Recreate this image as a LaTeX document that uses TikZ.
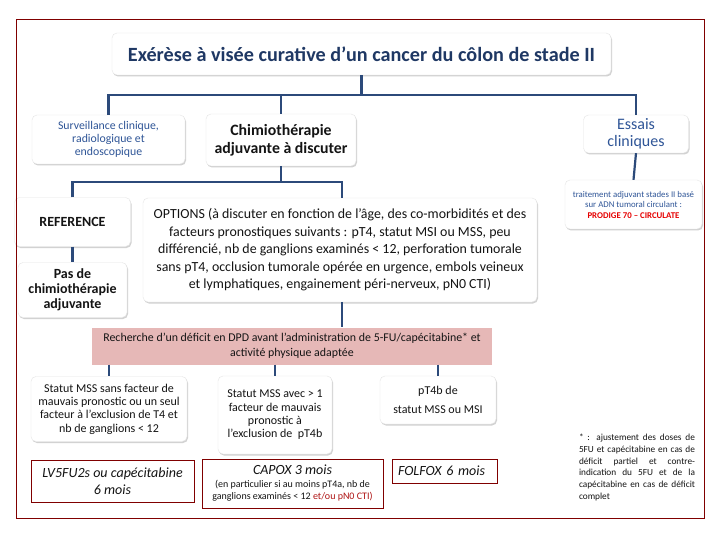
\documentclass[tikz,border=0pt]{standalone}
\usepackage{fontspec}
\setmainfont{Carlito}
\usetikzlibrary{shadows,calc}
\definecolor{framec}{RGB}{128,0,0}
\definecolor{connc}{RGB}{44,74,122}
\definecolor{titlec}{RGB}{31,56,100}
\definecolor{bluec}{RGB}{47,85,151}
\definecolor{redc}{RGB}{230,0,0}
\definecolor{pinkc}{RGB}{230,184,183}
\definecolor{darkred}{RGB}{175,20,20}
\definecolor{txt}{RGB}{20,20,20}
\begin{document}
\begin{tikzpicture}[x=1pt,y=-1pt,
  box/.style={draw=black!10, fill=white, rounded corners=5pt,
    drop shadow={shadow xshift=1pt,shadow yshift=-1.5pt,opacity=0.25,fill=black!70},
    align=center, inner sep=1pt, text=txt},
  rbox/.style={draw=framec, line width=0.9pt, fill=white, align=center, inner sep=1pt, text=txt},
  conn/.style={draw=connc, line width=2.2pt}]
\useasboundingbox (0,0) rectangle (720,540);
\fill[white] (0,0) rectangle (720,540);

% nodes
\node[box, minimum width=499pt, minimum height=42pt, text=titlec,
  font={\fontsize{20.2}{24}\selectfont\bfseries}] (title) at (361.5,54)
  {Exérèse à visée curative d’un cancer du côlon de stade II};
\node[box, minimum width=153pt, minimum height=49pt, text=bluec,
  font={\fontsize{11.8}{13}\selectfont}] (surv) at (108.5,139.5)
  {Surveillance clinique,\\ radiologique et\\ endoscopique};
\node[box, minimum width=150pt, minimum height=52pt,
  font={\fontsize{15.8}{18}\selectfont\bfseries}] (chimio) at (281,140)
  {Chimiothérapie\\ adjuvante à discuter};
\node[box, minimum width=105pt, minimum height=38pt, text=bluec,
  font={\fontsize{16}{17}\selectfont}] (essais) at (636,134)
  {Essais\\ cliniques};
\node[box, minimum width=137pt, minimum height=49pt, text=bluec,
  font={\fontsize{8.8}{10.5}\selectfont}] (trial) at (633.5,204.5)
  {traitement adjuvant stades II basé\\ sur ADN tumoral circulant :\\ {\color{redc}\bfseries PRODIGE 70 – CIRCULATE}};
\node[box, minimum width=116pt, minimum height=49pt,
  font={\fontsize{14}{16}\selectfont\bfseries}] (ref) at (72.5,222)
  {REFERENCE};
\node[box, minimum width=109pt, minimum height=55pt,
  font={\fontsize{14}{14.8}\selectfont\bfseries}] (pas) at (72.5,290)
  {Pas de\\ chimiothérapie\\ adjuvante};
\node[box, minimum width=394pt, minimum height=104pt,
  font={\fontsize{13.9}{17.5}\selectfont}] (opt) at (340,250)
  {OPTIONS (à discuter en fonction de l’âge, des co-morbidités et des\\
   facteurs pronostiques suivants : pT4, statut MSI ou MSS, peu\\
   différencié, nb de ganglions examinés < 12, perforation tumorale\\
   sans pT4, occlusion tumorale opérée en urgence, embols veineux\\
   et lymphatiques, engainement péri-nerveux, pN0 CTI)};
\node[fill=pinkc, minimum width=400pt, minimum height=37pt, align=center, text=txt,
  inner sep=1pt, font={\fontsize{11.9}{14.7}\selectfont}] (dpd) at (292,346)
  {Recherche d’un déficit en DPD avant l’administration de 5-FU/capécitabine* et\\ activité physique adaptée};
\node[box, minimum width=156pt, minimum height=65pt,
  font={\fontsize{12}{13.3}\selectfont}] (b1) at (109,409)
  {Statut MSS sans facteur de\\ mauvais pronostic ou un seul\\ facteur à l’exclusion de T4 et\\ nb de ganglions < 12};
\node[box, minimum width=114pt, minimum height=78pt,
  font={\fontsize{12}{13.3}\selectfont}] (b2) at (275,415)
  {Statut MSS avec > 1\\ facteur de mauvais\\ pronostic à\\ l’exclusion de~ pT4b};
\node[box, minimum width=116pt, minimum height=48pt,
  font={\fontsize{12}{19}\selectfont}] (b3) at (438,400)
  {pT4b de\\ statut MSS ou MSI};
\node[rbox, minimum width=163pt, minimum height=42pt,
  font={\fontsize{14}{17.5}\selectfont\itshape}] (r1) at (112.5,481)
  {LV5FU2s ou capécitabine\\ 6 mois};
\node[rbox, minimum width=181pt, minimum height=49pt,
  font={\fontsize{10}{12.5}\selectfont}] (r2) at (292.5,483.5)
  {{\fontsize{14}{15}\selectfont\itshape CAPOX 3 mois}\\
   (en particulier si au moins pT4a, nb de\\
   ganglions examinés < 12 {\color{darkred}et/ou pN0 CTI)}};
\node[rbox, minimum width=105pt, minimum height=24pt, text width=93pt, align=left,
  inner xsep=6pt, font={\fontsize{14}{15}\selectfont\itshape}] (r3) at (444.5,471)
  {FOLFOX 6 mois};
\node[text width=116pt, align=justify, inner sep=0pt, text=txt,
  font={\fontsize{9.3}{11.7}\selectfont}] (foot) at (637,467.5)
  {* : ajustement des doses de\linebreak 5FU et capécitabine en cas de\linebreak
   déficit partiel et contre-\linebreak{}indication du 5FU et de la\linebreak
   capécitabine en cas de déficit\linebreak complet};

% connectors
\coordinate (j1) at (361.5,95);
\coordinate (j2) at (281,182);
\draw[conn] (title.south) -- (title.south |- j1);
\draw[conn] (surv.north) |- (j1) -| (essais.north);
\draw[conn] (chimio.north) -- (chimio.north |- j1);
\draw[conn] (chimio.south) -- (chimio.south |- j2);
\draw[conn] (ref.north) |- (j2) -| ($(opt.north)+(2,0)$);
\draw[conn] (ref.south) -- (pas.north);
\draw[conn] (essais.south) -- (trial.north);
\draw[conn] ($(opt.south)+(2,0)$) -- ($(opt.south |- dpd.north)+(2,0)$);
\draw[conn] (b1.north |- dpd.south) -- (b1.north);
\draw[conn] (b2.north |- dpd.south) -- (b2.north);
\draw[conn] (b3.north |- dpd.south) -- (b3.north);

% frame
\draw[framec, line width=1pt] (16,20) rectangle (704,518);
\end{tikzpicture}
\end{document}
